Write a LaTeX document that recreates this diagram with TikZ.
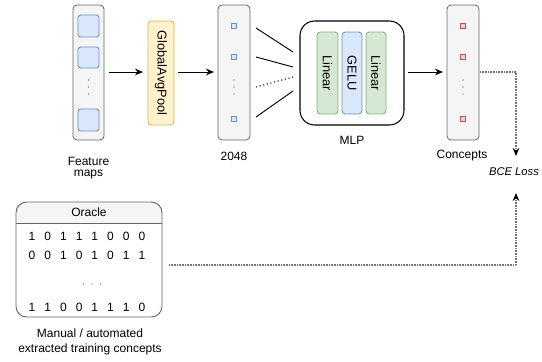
\documentclass[tikz,border=0pt]{standalone}
\usepackage{fontspec}
\setmainfont{Liberation Sans}
\usetikzlibrary{arrows.meta}
\definecolor{colfill}{HTML}{F5F5F5}
\definecolor{colline}{HTML}{666666}
\definecolor{bluefill}{HTML}{DAE8FC}
\definecolor{blueline}{HTML}{6C8EBF}
\definecolor{yelfill}{HTML}{FFF2CC}
\definecolor{yelline}{HTML}{D6B656}
\definecolor{grnfill}{HTML}{D5E8D4}
\definecolor{grnline}{HTML}{82B366}
\definecolor{redfill}{HTML}{F8CECC}
\definecolor{redline}{HTML}{B85450}
\tikzset{
  column/.style={draw=colline, fill=colfill, rounded corners=3pt, line width=0.6pt},
  bigcell/.style={draw=blueline, fill=bluefill, rounded corners=2pt, line width=0.6pt},
  smallcell/.style={draw=#1line, fill=#1fill, line width=0.5pt, minimum size=3.6pt, inner sep=0pt},
  layer/.style={draw=#1line, fill=#1fill, rounded corners=2.5pt, line width=0.6pt},
  lbl/.style={font=\fontsize{9}{11}\selectfont, inner sep=0pt},
  rotlbl/.style={font=\fontsize{9.6}{11}\selectfont, rotate=-90, inner sep=0pt},
  dig/.style={font=\fontsize{9}{11}\selectfont, inner sep=0pt},
  dotmark/.style={circle, fill=black!70, inner sep=0pt, minimum size=1pt},
  flow/.style={-{Stealth[length=6pt,width=5pt]}, line width=0.7pt},
  lossline/.style={draw=black!55, dash pattern=on 0.6pt off 0.6pt, line width=0.8pt, -{Stealth[length=6pt,width=5pt,black]}},
}
\begin{document}
\begin{tikzpicture}[x=0.75pt,y=-0.75pt]
\useasboundingbox (0,0) rectangle (542,361);

% Feature maps column
\draw[column] (73,5) rectangle (104,140);
\draw[bigcell] (78,15) rectangle (99,37);
\draw[bigcell] (78,47) rectangle (99,68);
\draw[bigcell] (78,109) rectangle (99,131);
\foreach \y [count=\k] in {80,87,94} \node[dotmark] (fmd\k) at (88.5,\y) {};
\node[lbl] (fmlbl1) at (88.5,161) {Feature};
\node[lbl] (fmlbl2) at (88.5,175) {maps};

% Pooling layer
\node[layer=yel, minimum width=26*0.75pt, minimum height=104*0.75pt] (pool) at (161,73) {};
\node[rotlbl] (pooltxt) at (pool.center) {GlobalAvgPool};

% Pooled vector
\draw[column] (218,5) rectangle (250,140);
\node[smallcell=blue] (v1) at (234,26) {};
\node[smallcell=blue] (v2) at (234,57) {};
\node[smallcell=blue] (v3) at (234,119) {};
\foreach \y [count=\k] in {80,87,94} \node[dotmark] (vd\k) at (234,\y) {};
\node[lbl] (veclbl) at (234,156) {2048};

% MLP block
\draw[line width=0.8pt, rounded corners=11pt] (300,21) rectangle (404,125);
\node[layer=grn, minimum width=21*0.75pt, minimum height=82*0.75pt] (lin1) at (327.5,73) {};
\node[layer=blue, minimum width=20*0.75pt, minimum height=82*0.75pt] (gelu) at (352,73) {};
\node[layer=grn, minimum width=20*0.75pt, minimum height=82*0.75pt] (lin2) at (376,73) {};
\node[rotlbl] at (lin1.center) {Linear};
\node[rotlbl] at (gelu.center) {GELU};
\node[rotlbl] at (lin2.center) {Linear};
\node[lbl] (mlplbl) at (352,140) {MLP};

% Fan-in lines to the MLP
\coordinate (f1a) at (256,28);  \coordinate (f1b) at (293,52);
\coordinate (f2a) at (256,57);  \coordinate (f2b) at (293,67);
\coordinate (f3a) at (256,87);  \coordinate (f3b) at (293,77);
\coordinate (f4a) at (256,117); \coordinate (f4b) at (293,91);
\draw[line width=0.7pt] (f1a) -- (f1b);
\draw[line width=0.7pt] (f2a) -- (f2b);
\draw[line width=0.8pt, dotted] (f3a) -- (f3b);
\draw[line width=0.7pt] (f4a) -- (f4b);

% Concepts vector
\draw[column] (447,5) rectangle (479,140);
\node[smallcell=red] (c1) at (463,26) {};
\node[smallcell=red] (c2) at (463,57) {};
\node[smallcell=red] (c3) at (463,119) {};
\foreach \y [count=\k] in {80,87,94} \node[dotmark] (cd\k) at (463,\y) {};
\node[lbl] (conlbl) at (462,156) {Concepts};

% Main flow arrows
\coordinate (a1s) at (109,72); \coordinate (a1e) at (143,72);
\coordinate (a2s) at (178,72); \coordinate (a2e) at (214,72);
\coordinate (a3s) at (408,72); \coordinate (a3e) at (443,72);
\draw[flow] (a1s) -- (a1e);
\draw[flow] (a2s) -- (a2e);
\draw[flow] (a3s) -- (a3e);

% Loss
\node[lbl, font=\fontsize{8.4}{10}\selectfont\itshape] (loss) at (514,172) {BCE Loss};
\coordinate (conOut) at (480,72);
\coordinate (lossTop) at (516,156);
\coordinate (lossBot) at (516,193);
\coordinate (cornerA) at (516,72);
\coordinate (cornerB) at (516,265);
\coordinate (oracleOut) at (169,265);
\draw[lossline] (conOut) -- (cornerA) -- (lossTop);
\draw[lossline] (oracleOut) -- (cornerB) -- (lossBot);

% Oracle table
\fill[colfill, rounded corners=8pt] (16,223) -- (16,202) -- (162,202) -- (162,223) -- cycle;
\fill[colfill] (16,214) rectangle (162,223);
\draw[colline, line width=0.6pt] (16,223) -- (162,223);
\draw[colline, line width=0.7pt, rounded corners=8pt] (16,202) rectangle (162,317);
\node[lbl] (oracle) at (89,212.5) {Oracle};
\def\colx{{32,47.7,63.4,79.1,94.8,110.5,126.2,142}}
\foreach \v [count=\c] in {1,0,1,1,1,0,0,0}
  \node[dig] (ra\c) at ({\colx[\c-1]},236) {\v};
\foreach \v [count=\c] in {0,0,1,0,1,0,1,1}
  \node[dig] (rb\c) at ({\colx[\c-1]},255) {\v};
\foreach \v [count=\c] in {1,1,0,0,1,1,1,0}
  \node[dig] (rc\c) at ({\colx[\c-1]},307) {\v};
\foreach \x [count=\k] in {83.5,92,100.5} \node[dotmark] (od\k) at (\x,284) {};
\node[lbl] (oraclelbl1) at (90,333) {Manual / automated};
\node[lbl] (oraclelbl2) at (90,349) {extracted training concepts};
\end{tikzpicture}
\end{document}
